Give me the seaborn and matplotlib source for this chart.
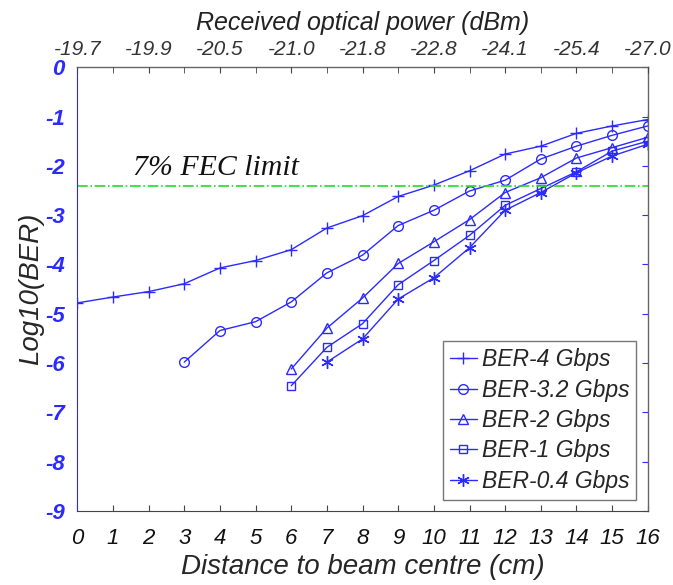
import numpy as np
import pandas as pd
import matplotlib
matplotlib.use("Agg")
import matplotlib.pyplot as plt
import seaborn as sns

# ---- data ----
dist_4g = list(range(0, 17))
ber_4g = [-4.78, -4.66, -4.55, -4.39, -4.07, -3.92, -3.70, -3.26, -3.01,
          -2.62, -2.39, -2.10, -1.76, -1.60, -1.34, -1.19, -1.06]
dist_32g = list(range(3, 17))
ber_32g = [-5.98, -5.34, -5.16, -4.76, -4.17, -3.81, -3.21, -2.90, -2.51,
           -2.29, -1.86, -1.60, -1.38, -1.19]
dist_2g = list(range(6, 17))
ber_2g = [-6.12, -5.29, -4.68, -3.98, -3.54, -3.09, -2.54, -2.24, -1.84, -1.63, -1.42]
dist_1g = list(range(6, 17))
ber_1g = [-6.46, -5.68, -5.20, -4.41, -3.92, -3.41, -2.80, -2.46, -2.12, -1.70, -1.50]
dist_04g = list(range(7, 17))
ber_04g = [-5.98, -5.51, -4.70, -4.27, -3.66, -2.90, -2.54, -2.14, -1.80, -1.56]

series_names = ["BER-4 Gbps", "BER-3.2 Gbps", "BER-2 Gbps", "BER-1 Gbps", "BER-0.4 Gbps"]
fec_limit = -2.41
top_positions = [0, 2, 4, 6, 8, 10, 12, 14, 16]
top_labels = ["-19.7", "-19.9", "-20.5", "-21.0", "-21.8", "-22.8", "-24.1", "-25.4", "-27.0"]

# ---- style ----
sns.set_style("white")
plt.rcParams['font.family'] = ['Liberation Sans', 'DejaVu Sans']
plt.rcParams['axes.unicode_minus'] = False

blue = "#2b2bff"
markers = ['+', 'o', '^', 's', (6, 2, 0)]
msizes = [9, 7, 7.5, 6, 9]
data = [(dist_4g, ber_4g), (dist_32g, ber_32g), (dist_2g, ber_2g),
        (dist_1g, ber_1g), (dist_04g, ber_04g)]

fig = plt.figure(figsize=(6.73, 5.85), dpi=100)
ax = fig.add_axes([0.1149, 0.1265, 0.9625 - 0.1149, 0.885 - 0.1265])

for (xs, ys), name, mk, ms in zip(data, series_names, markers, msizes):
    df = pd.DataFrame({"x": xs, "y": ys})
    sns.lineplot(data=df, x="x", y="y", ax=ax, color=blue, linewidth=1.0,
                 marker=mk, markersize=ms, markerfacecolor='none',
                 markeredgecolor=blue, markeredgewidth=1.0, label=name)

ax.axhline(fec_limit, color="#22dd22", linestyle='-.', linewidth=1.2)
ax.text(1.56, -2.19, "7% FEC limit", fontsize=21.5, fontstyle='italic',
        family='Liberation Serif', va='baseline', ha='left', color='#111111')

ax.set_xlim(0, 16)
ax.set_ylim(-9, 0)
ax.set_xticks(range(0, 17))
ax.set_yticks(range(-9, 1))
ax.tick_params(axis='both', direction='in', length=4, top=False, right=True)
ax.tick_params(axis='x', labelsize=16, labelcolor='#111111', color='#444444', pad=12)
ax.tick_params(axis='y', labelsize=16, labelcolor=blue, color=blue, pad=9)
for lbl in ax.get_xticklabels():
    lbl.set_fontstyle('italic')
for lbl in ax.get_yticklabels():
    lbl.set_fontstyle('italic')
    lbl.set_fontweight('bold')

ax.set_xlabel("Distance to beam centre (cm)", fontsize=20, fontstyle='italic', labelpad=4)
ax.set_ylabel("Log10(BER)", fontsize=20, fontstyle='italic', labelpad=1)

for side in ['top', 'right']:
    ax.spines[side].set_color('#666666')
    ax.spines[side].set_linewidth(1.0)
ax.spines['bottom'].set_color('#444444')
ax.spines['left'].set_color(blue)
for sp in ax.spines.values():
    sp.set_visible(True)

# top axis
ax2 = ax.twiny()
ax2.set_xlim(ax.get_xlim())
ax2.set_xticks(top_positions)
ax2.set_xticklabels(top_labels)
ax2.set_xticks(range(0, 17), minor=True)
ax2.tick_params(axis='x', which='both', direction='in', length=4, color='#444444',
                labelsize=15, labelcolor='#333333', pad=6)
for lbl in ax2.get_xticklabels():
    lbl.set_fontstyle('italic')
ax2.set_xlabel("Received optical power (dBm)", fontsize=18, fontstyle='italic',
               color='#222222', labelpad=7)
for sp in ax2.spines.values():
    sp.set_visible(False)

leg = ax.legend(loc='lower right', frameon=True, fancybox=False,
                edgecolor='#555555', borderpad=0.3, labelspacing=0.32,
                handlelength=1.2, handletextpad=0.2, borderaxespad=0.5,
                prop={'style': 'italic', 'size': 16.5, 'family': 'Liberation Sans'})
leg.get_frame().set_linewidth(1.0)

fig.savefig("out.png", dpi=100)
